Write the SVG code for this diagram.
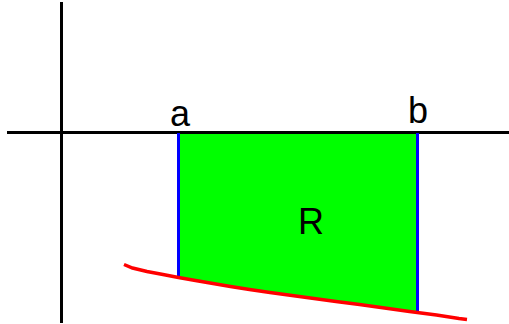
<svg xmlns="http://www.w3.org/2000/svg" width="509" height="324" viewBox="0 0 509 324">
<style>
.ax{stroke:#000;stroke-width:3;fill:none}
.bnd{stroke:#0000ff;stroke-width:3;fill:none}
.crv{stroke:#ff0000;stroke-width:3.5;fill:none}
.reg{fill:#00ff00;stroke:none}
.lbl{font-family:"Liberation Sans",Arial,sans-serif;font-size:36px;fill:#000;text-anchor:middle}
</style>
<rect width="509" height="324" fill="#fff"/>
<g id="region" shape-rendering="crispEdges">
<polygon class="reg" points="178.5,132.5 417.5,132.5 417.5,312.5 409.5,311.5 384.5,308 359.5,304.5 336,301.5 314,298.5 292,295.5 270,292.5 249.5,289.5 230.5,286.5 213,283.5 195.5,280.5 178.5,277.5"/>
<text class="lbl" x="311" y="234">R</text>
</g>
<g id="connectors">
<line id="y-axis" class="ax" x1="61.5" y1="2" x2="61.5" y2="323" shape-rendering="crispEdges"/>
<line id="x-axis" class="ax" x1="7" y1="132.5" x2="509" y2="132.5" shape-rendering="crispEdges"/>
<line id="line-a" class="bnd" x1="178.5" y1="132.5" x2="178.5" y2="277.5" shape-rendering="crispEdges"/>
<line id="line-b" class="bnd" x1="417.5" y1="132.5" x2="417.5" y2="312.5" shape-rendering="crispEdges"/>
<polyline id="curve" class="crv" points="124,264.5 132.5,268 147,271.5 163,274.5 178.5,277.5 195.5,280.5 213,283.5 230.5,286.5 249.5,289.5 270,292.5 292,295.5 314,298.5 336,301.5 359.5,304.5 384.5,308 409.5,311.5 436.5,315 459,318.5 467,319.5"/>
</g>
<g id="label-a"><text class="lbl" x="180" y="126">a</text></g>
<g id="label-b"><text class="lbl" x="418" y="123">b</text></g>
</svg>
